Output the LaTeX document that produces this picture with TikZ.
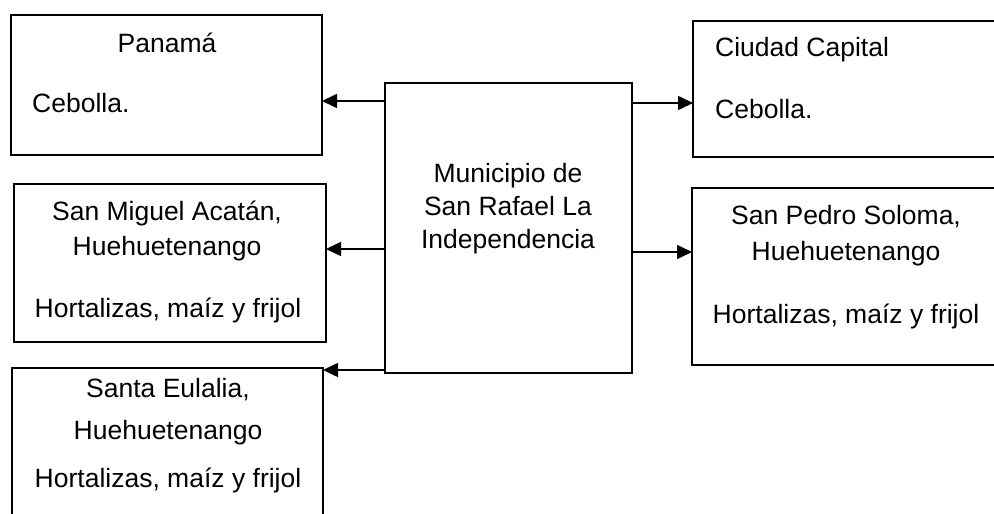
\documentclass[tikz,border=0pt]{standalone}
\usepackage{fontspec}
\setmainfont{Liberation Sans}
\usetikzlibrary{arrows.meta}
\begin{document}
\begin{tikzpicture}[x=1pt,y=-1pt,
  box/.style={draw,line width=1.6pt,rectangle,inner sep=0pt,outer sep=0pt,anchor=north west},
  lbl/.style={anchor=base,inner sep=0pt,font=\fontsize{26.5}{30}\selectfont},
  lbll/.style={lbl,anchor=base west},
  arr/.style={line width=1.6pt,-{Triangle[length=15pt,width=14pt]}}]
\useasboundingbox (0,0) rectangle (994,514);
\clip (0,0) rectangle (994,514);
% boxes
\node[box,minimum width=311pt,minimum height=140pt] (pan) at (11,15) {};
\node[box,minimum width=312pt,minimum height=158pt] (sm) at (14,184) {};
\node[box,minimum width=311pt,minimum height=170pt] (se) at (12,368) {};
\node[box,minimum width=247pt,minimum height=290pt] (cen) at (385,83) {};
\node[box,minimum width=330pt,minimum height=136pt] (cc) at (693,21) {};
\node[box,minimum width=330pt,minimum height=177pt] (sp) at (692,188) {};
% texts
\node[lbl] (t1) at (167,52) {Panamá};
\node[lbll] (t2) at (32,112) {Cebolla.};
\node[lbl] (t3) at (167,220) {San Miguel Acatán,};
\node[lbl] (t4) at (167,255) {Huehuetenango};
\node[lbl] (t5) at (168,317) {Hortalizas, maíz y frijol};
\node[lbl] (t6) at (168,397) {Santa Eulalia,};
\node[lbl] (t7) at (168,439) {Huehuetenango};
\node[lbl] (t8) at (168,487) {Hortalizas, maíz y frijol};
\node[lbl] (t9) at (508,182) {Municipio de};
\node[lbl] (t10) at (508,215) {San Rafael La};
\node[lbl] (t11) at (508,248) {Independencia};
\node[lbll] (t12) at (715,56) {Ciudad Capital};
\node[lbll] (t13) at (715,118) {Cebolla.};
\node[lbl] (t14) at (846,224) {San Pedro Soloma,};
\node[lbl] (t15) at (846,260) {Huehuetenango};
\node[lbl] (t16) at (846,323) {Hortalizas, maíz y frijol};
% connector levels
\coordinate (ya) at (0,101);
\coordinate (yb) at (0,249);
\coordinate (yc) at (0,370);
\coordinate (yd) at (0,103);
\coordinate (ye) at (0,252);
\draw[arr] (cen.west |- ya) -- (pan.east |- ya);
\draw[arr] (cen.west |- yb) -- (sm.east |- yb);
\draw[arr] (cen.west |- yc) -- (se.east |- yc);
\draw[arr] (cen.east |- yd) -- (cc.west |- yd);
\draw[arr] (cen.east |- ye) -- (sp.west |- ye);
\end{tikzpicture}
\end{document}
